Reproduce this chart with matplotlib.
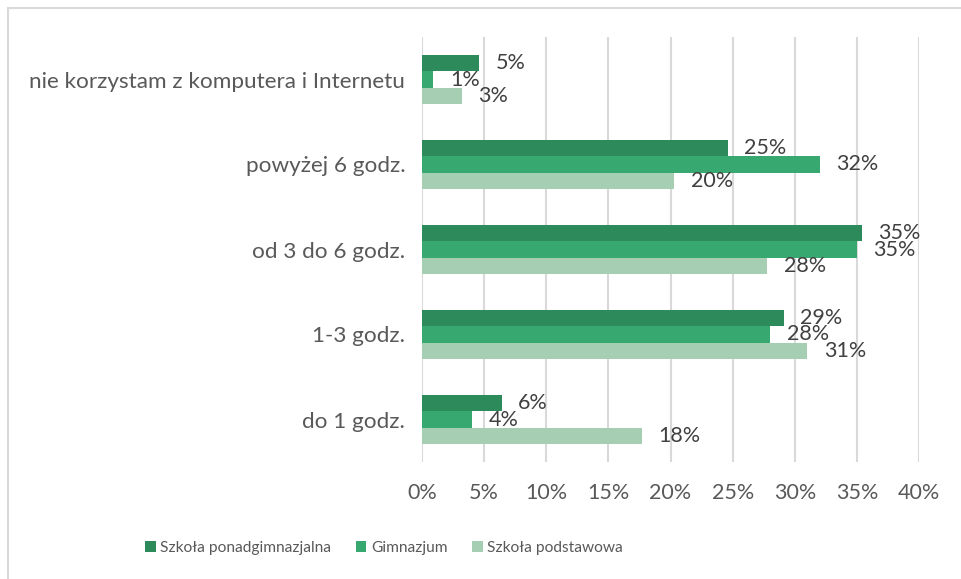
import matplotlib
matplotlib.use("Agg")
import matplotlib.pyplot as plt
from matplotlib.patches import Rectangle
import numpy as np

plt.rcParams["font.family"] = ["Lato", "DejaVu Sans"]

# Categories listed bottom to top
categories = [
    "do 1 godz.",
    "1-3 godz.",
    "od 3 do 6 godz.",
    "powyżej 6 godz.",
    "nie korzystam z komputera i Internetu",
]
series_names = ["Szkoła ponadgimnazjalna", "Gimnazjum", "Szkoła podstawowa"]
ponadgimnazjalna = [6.4, 29.1, 35.4, 24.6, 4.6]
gimnazjum = [4.0, 28.0, 35.0, 32.0, 0.9]
podstawowa = [17.7, 31.0, 27.8, 20.3, 3.2]
x_ticks = [0, 5, 10, 15, 20, 25, 30, 35, 40]

colors = ["#2D8A5A", "#37A86F", "#A6CEB3"]
text_color = "#595959"
grid_color = "#D9D9D9"

fig = plt.figure(figsize=(9.61, 5.79), dpi=100)
ax = fig.add_axes([422 / 961, 1 - 462 / 579, 497 / 961, 425 / 579])

# frame around the whole chart
fig.patches.append(Rectangle((8 / 961, -0.05), 1.2, 1 - 7.5 / 579 + 0.05,
                             transform=fig.transFigure, fill=False,
                             edgecolor=grid_color, linewidth=1.5))

y = np.arange(len(categories))
h = 0.192
offsets = [h, 0, -h]
for vals, off, col, name in zip([ponadgimnazjalna, gimnazjum, podstawowa],
                                offsets, colors, series_names):
    bars = ax.barh(y + off, vals, height=h, color=col, label=name, zorder=3)
    for b, v in zip(bars, vals):
        ax.annotate(f"{v:.0f}%", (b.get_width(), b.get_y() + b.get_height() / 2),
                    xytext=(12, 0), textcoords="offset points",
                    ha="left", va="center", fontsize=15.5, color="#404040",
                    zorder=4)

ax.set_xlim(0, 40)
ax.set_ylim(-0.5, len(categories) - 0.5)
ax.set_xticks(x_ticks)
ax.set_xticklabels([f"{t}%" for t in x_ticks])
ax.set_yticks(y)
ax.set_yticklabels(categories, fontsize=16.2)
ax.tick_params(axis="both", length=0, colors=text_color)
ax.tick_params(axis="x", pad=15, labelsize=15.5)
ax.tick_params(axis="y", pad=12)
ax.grid(axis="x", color=grid_color, linewidth=1.5, zorder=0)
for s in ax.spines.values():
    s.set_visible(False)

ax.legend(loc="center", bbox_to_anchor=(384 / 961, 1 - 548 / 579),
          bbox_transform=fig.transFigure, ncol=3, frameon=False,
          fontsize=11.2, handlelength=0.7, handleheight=0.7,
          handletextpad=0.3, columnspacing=1.55, labelcolor=text_color)

fig.savefig("out.png", dpi=100, facecolor="white")
